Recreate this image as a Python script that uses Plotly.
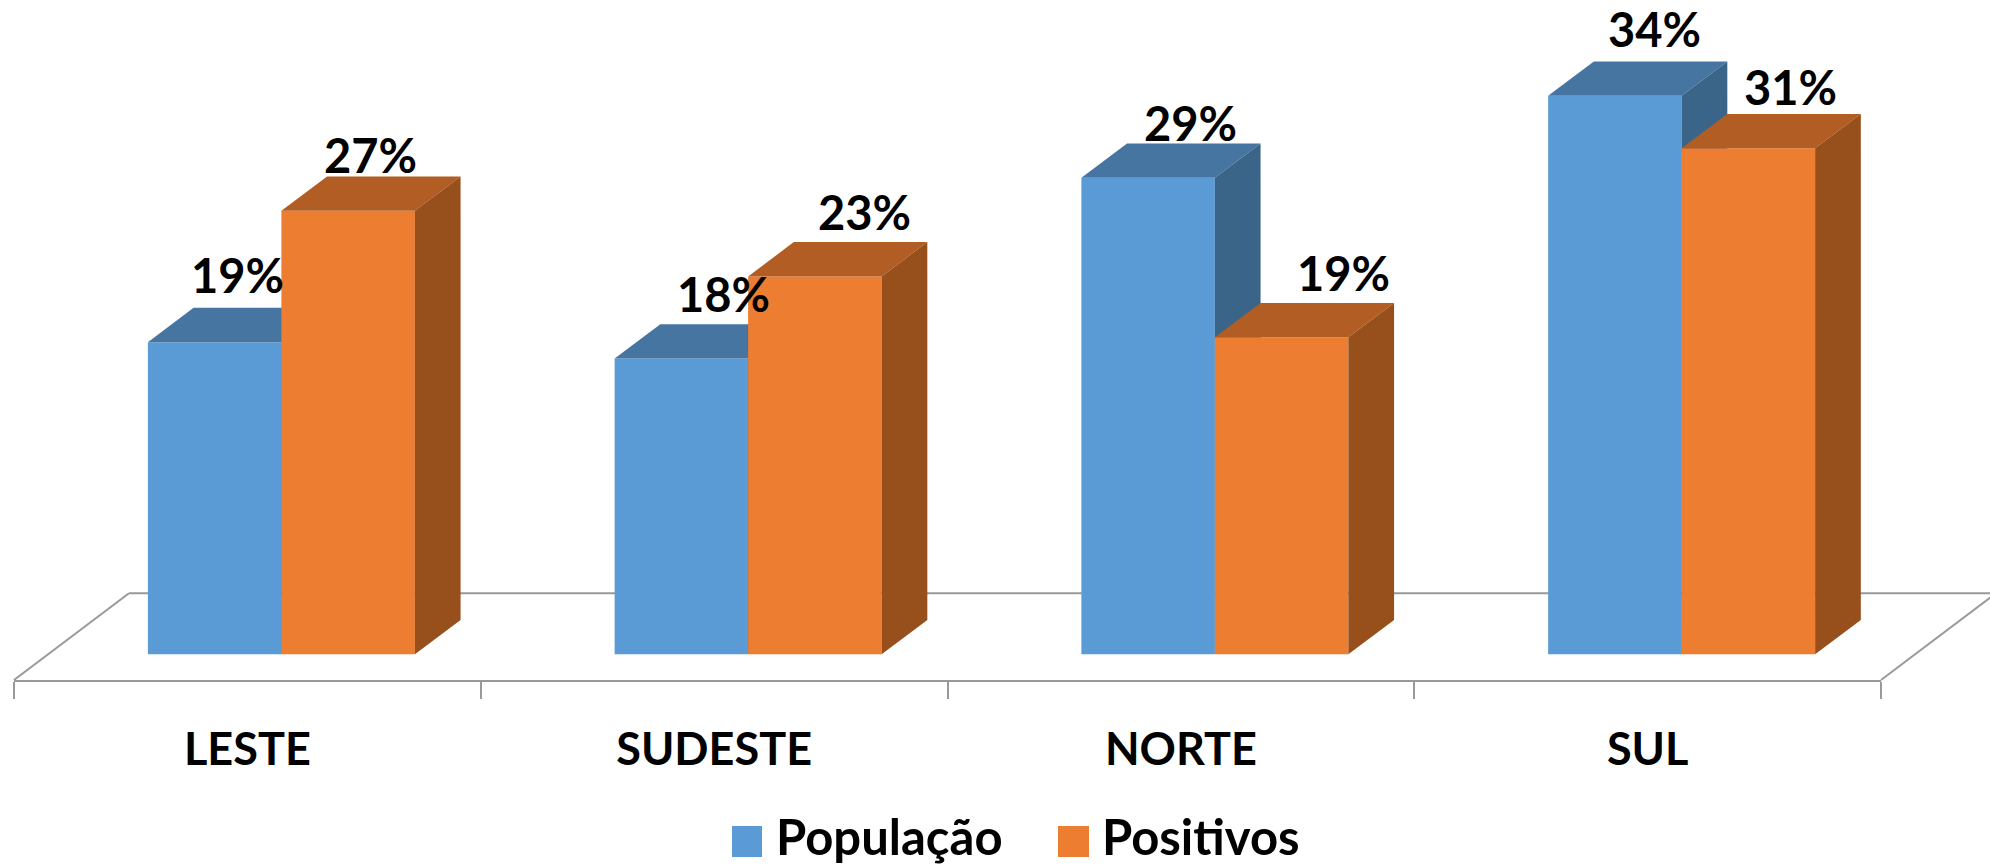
import plotly.graph_objects as go

# ---- data ----
categories = ["LESTE", "SUDESTE", "NORTE", "SUL"]
populacao = [19.0, 18.0, 29.0, 34.0]
positivos = [27.0, 23.0, 19.3, 30.8]
labels_populacao = ["19%", "18%", "29%", "34%"]
labels_positivos = ["27%", "23%", "19%", "31%"]

# ---- layout constants (pixels of the 1990x868 page) ----
W, H = 1990, 868
PLOT_L, PLOT_R, PLOT_B = 14, 1881, 680
CAT_PX = (PLOT_R - PLOT_L) / len(categories)
PX_PER_PCT = 16.43
BASE_LIFT = 25.7          # front floor edge to bar base
BAR_W = 133.5 / CAT_PX
BAR_SHIFT = 34.0 / CAT_PX
DEPTH_X = 45.7 / CAT_PX
DEPTH_Y = 34.3 / PX_PER_PCT
FLOOR_DX, FLOOR_DY = 115.0, 86.7

BLUE, BLUE_TOP, BLUE_SIDE = "#5B9BD5", "#4775A1", "#3A6589"
ORANGE, ORANGE_TOP, ORANGE_SIDE = "#ED7D31", "#B25D23", "#974F1C"
AXIS = "#999999"
FONT = "Lato"

# label nudges in px relative to the bar's front top centre
shift_pop = [(23, 67), (42, 65), (42, 55), (40, 67)]
shift_pos = [(22, 56), (50, 64), (62, 64), (42, 61)]

xs = list(range(len(categories)))
y_range = [-BASE_LIFT / PX_PER_PCT, (PLOT_B - BASE_LIFT) / PX_PER_PCT]
x_range = [-0.5, len(categories) - 0.5]

fig = go.Figure()


def add_series(name, values, front, top, side, left_offset, xa, ya):
    centers = [x + BAR_SHIFT for x in xs]
    fig.add_trace(go.Bar(
        name=name, x=centers, y=values, width=BAR_W, offset=left_offset,
        marker=dict(color=front, line=dict(width=0)),
        xaxis=xa, yaxis=ya, showlegend=True, hoverinfo="skip",
    ))
    for c, v in zip(centers, values):
        l = c + left_offset
        r = l + BAR_W
        fig.add_trace(go.Scatter(
            x=[l, r, r + DEPTH_X, l + DEPTH_X, l], y=[v, v, v + DEPTH_Y, v + DEPTH_Y, v],
            mode="lines", fill="toself", fillcolor=top, line=dict(width=0),
            xaxis=xa, yaxis=ya, showlegend=False, hoverinfo="skip",
        ))
        fig.add_trace(go.Scatter(
            x=[r, r + DEPTH_X, r + DEPTH_X, r, r], y=[0, DEPTH_Y, v + DEPTH_Y, v, 0],
            mode="lines", fill="toself", fillcolor=side, line=dict(width=0),
            xaxis=xa, yaxis=ya, showlegend=False, hoverinfo="skip",
        ))


add_series("População", populacao, BLUE, BLUE_TOP, BLUE_SIDE, -BAR_W, "x", "y")
add_series("Positivos", positivos, ORANGE, ORANGE_TOP, ORANGE_SIDE, 0, "x2", "y2")

annotations = []
for i, c in enumerate(xs):
    for vals, txts, shifts, off in (
        (populacao, labels_populacao, shift_pop, -BAR_W / 2),
        (positivos, labels_positivos, shift_pos, BAR_W / 2),
    ):
        annotations.append(dict(
            x=c + BAR_SHIFT + off, y=vals[i], xref="x", yref="y",
            text=txts[i], showarrow=False, xanchor="center", yanchor="middle",
            xshift=shifts[i][0], yshift=shifts[i][1],
            font=dict(family=FONT, size=47, color="black", weight=700),
        ))


def px(x):
    return (x - PLOT_L) / (PLOT_R - PLOT_L)


def py(y):
    return (PLOT_B - y) / PLOT_B


line = dict(color=AXIS, width=2)
shapes = [
    dict(type="line", xref="paper", yref="paper", layer="below", line=line,
         x0=px(PLOT_L), y0=py(PLOT_B), x1=px(PLOT_L + FLOOR_DX), y1=py(PLOT_B - FLOOR_DY)),
    dict(type="line", xref="paper", yref="paper", layer="below", line=line,
         x0=px(PLOT_L + FLOOR_DX), y0=py(PLOT_B - FLOOR_DY), x1=px(PLOT_R + FLOOR_DX), y1=py(PLOT_B - FLOOR_DY)),
    dict(type="line", xref="paper", yref="paper", layer="below", line=line,
         x0=px(PLOT_R), y0=py(PLOT_B), x1=px(PLOT_R + FLOOR_DX), y1=py(PLOT_B - FLOOR_DY)),
    # enlarged legend swatches
    dict(type="rect", xref="paper", yref="paper", layer="above", line=dict(width=0), fillcolor=BLUE,
         x0=px(732), x1=px(762), y0=py(857), y1=py(826)),
    dict(type="rect", xref="paper", yref="paper", layer="above", line=dict(width=0), fillcolor=ORANGE,
         x0=px(1058), x1=px(1089), y0=py(857), y1=py(826)),
]

hidden = dict(visible=False, showgrid=False, zeroline=False)
fig.update_layout(
    width=W, height=H,
    margin=dict(l=PLOT_L, r=W - PLOT_R, t=0, b=H - PLOT_B, pad=0, autoexpand=False),
    paper_bgcolor="white", plot_bgcolor="rgba(0,0,0,0)",
    font=dict(family=FONT, color="black"),
    barmode="overlay",
    xaxis=dict(
        range=x_range, tickmode="array", tickvals=xs, ticktext=categories,
        ticks="", showline=True, linecolor=AXIS, linewidth=2, showgrid=False, zeroline=False,
        tickfont=dict(family=FONT, size=45, color="black", weight=700), ticklabelstandoff=29,
        minor=dict(tickmode="array", tickvals=[x - 0.5 for x in xs] + [xs[-1] + 0.5],
                   ticks="outside", ticklen=17, tickwidth=2, tickcolor=AXIS, showgrid=False),
    ),
    yaxis=dict(range=y_range, **hidden),
    xaxis2=dict(range=x_range, overlaying="x", anchor="y2", **hidden),
    yaxis2=dict(range=y_range, overlaying="y", anchor="x2", **hidden),
    legend=dict(
        orientation="h", x=px(736), xanchor="left", y=py(875), yanchor="bottom",
        font=dict(family=FONT, size=49, color="black", weight=700),
        itemwidth=30, entrywidth=281, entrywidthmode="pixels", traceorder="normal",
        bgcolor="rgba(0,0,0,0)", itemclick=False, itemdoubleclick=False,
    ),
    annotations=annotations, shapes=shapes,
    hovermode=False,
)

fig.write_html("out.html", config=dict(displayModeBar=False),
               post_script="document.body.style.margin='0';document.body.style.overflow='hidden';")
